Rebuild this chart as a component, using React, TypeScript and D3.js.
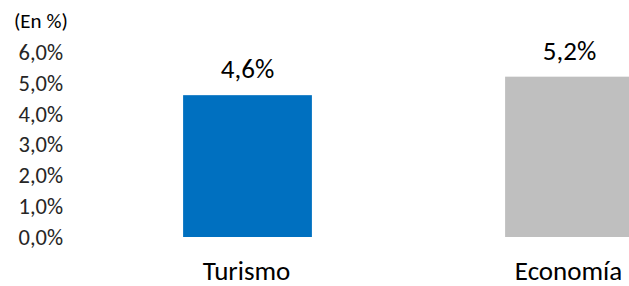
import React from "react";
import * as d3 from "d3";

const categories = ["Turismo", "Economía"];
const values = [4.6, 5.2];
const colors = ["#0070C0", "#BFBFBF"];
const yTicks = [0, 1, 2, 3, 4, 5, 6];
const unitLabel = "(En %)";

const W = 629;
const H = 286;
const FONT = "Carlito, Calibri, Lato, sans-serif";

const fmt = (v: number) => d3.format(".1f")(v).replace(".", ",") + "%";

export default function App() {
  const y = d3.scaleLinear().domain([0, 6]).range([237, 52]);
  const x = d3
    .scaleBand<string>()
    .domain(categories)
    .range([86.5, 730.5])
    .paddingInner(0.6)
    .paddingOuter(0.3);

  return (
    <svg
      width={W}
      height={H}
      style={{ position: "absolute", left: 0, top: 0, background: "#fff" }}
      fontFamily={FONT}
    >
      <rect width={W} height={H} fill="#fff" />
      <text x={14} y={28} fontSize={21} fill="#000">
        {unitLabel}
      </text>
      {yTicks.map((t) => (
        <text
          key={t}
          x={63}
          y={y(t)}
          dy="0.35em"
          textAnchor="end"
          fontSize={22.5}
          fill="#262626"
        >
          {fmt(t)}
        </text>
      ))}
      {categories.map((c, i) => (
        <g key={c}>
          <rect
            x={x(c)}
            y={y(values[i])}
            width={x.bandwidth()}
            height={y(0) - y(values[i])}
            fill={colors[i]}
          />
          <text
            x={(x(c) as number) + x.bandwidth() / 2}
            y={y(values[i]) - 17}
            textAnchor="middle"
            fontSize={27}
            fill="#000"
          >
            {fmt(values[i])}
          </text>
          <text
            x={(x(c) as number) + x.bandwidth() / 2 - 1}
            y={280}
            textAnchor="middle"
            fontSize={27}
            fill="#000"
          >
            {c}
          </text>
        </g>
      ))}
    </svg>
  );
}
